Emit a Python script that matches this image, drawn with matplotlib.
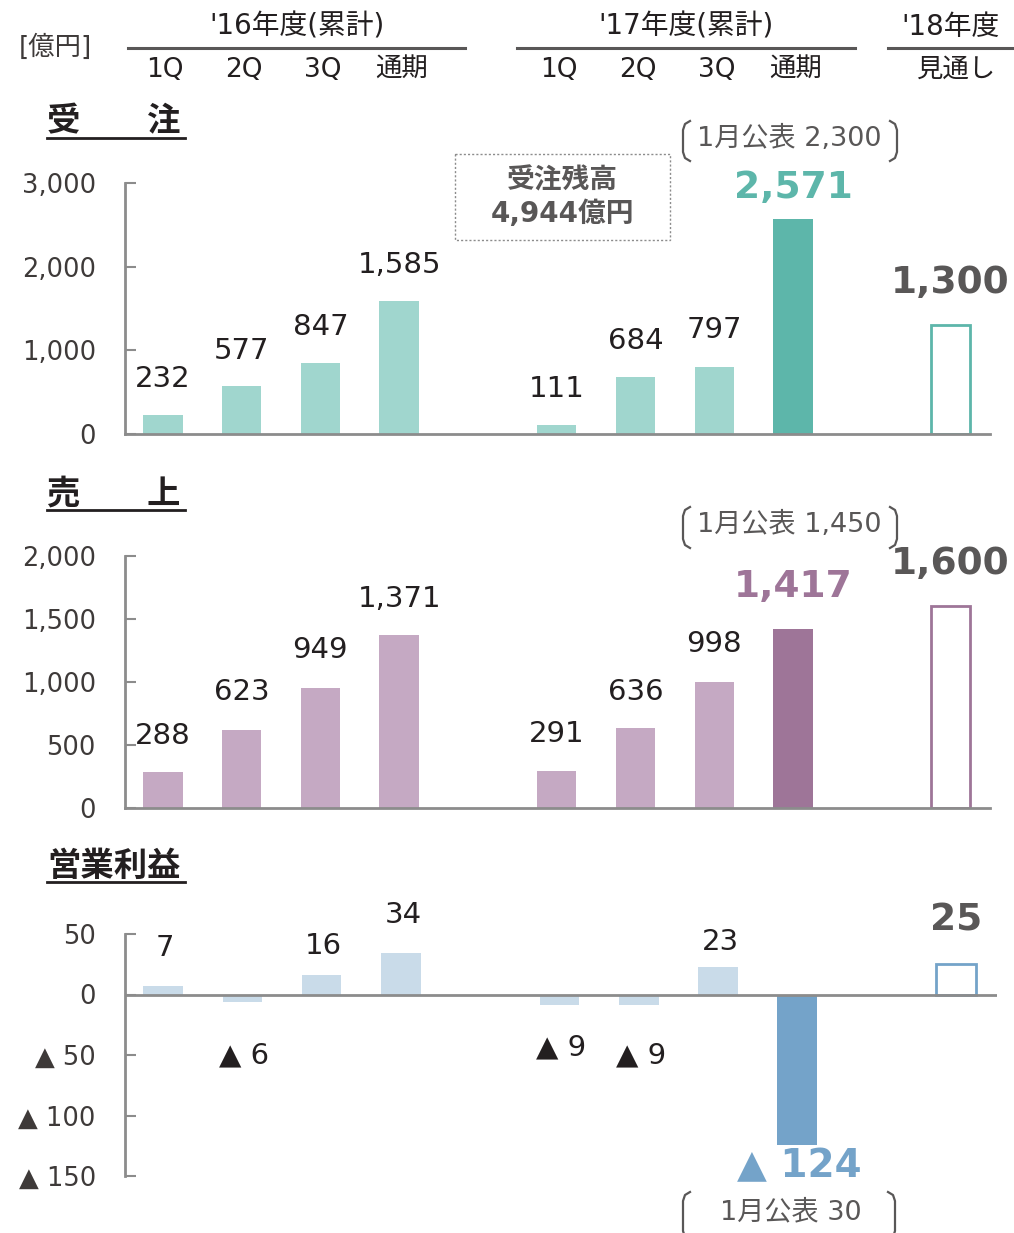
import matplotlib
matplotlib.use('Agg')
import matplotlib.pyplot as plt
from matplotlib.transforms import Affine2D, blended_transform_factory
from matplotlib.lines import Line2D
from matplotlib.patches import Rectangle

# DejaVu for the latin digits (wide, like the original), Noto CJK for kanji
plt.rcParams['font.family'] = ['DejaVu Sans', 'Noto Sans CJK JP']

# ---------------------------------------------------------------
# Data (億円)
# ---------------------------------------------------------------
quarters = ['1Q', '2Q', '3Q', '通期']
years = ["'16年度(累計)", "'17年度(累計)", "'18年度"]
forecast_label = '見通し'

orders_16 = [232, 577, 847, 1585]
orders_17 = [111, 684, 797, 2571]
orders_18 = 1300

sales_16 = [288, 623, 949, 1371]
sales_17 = [291, 636, 998, 1417]
sales_18 = 1600

profit_16 = [7, -6, 16, 34]
profit_17 = [-9, -9, 23, -124]
profit_18 = 25

plan_orders = 2300
plan_sales = 1450
plan_profit = 30
order_backlog = 4944

# bar positions: 4 bars, gap, 4 bars, gap, forecast
pos_16 = [0, 1, 2, 3]
pos_17 = [5, 6, 7, 8]
pos_18 = 10

TEXT = '#231f20'
TICK = '#3e3a39'
GRAY = '#595757'
SPINE = '#8c8c8c'

fig = plt.figure(figsize=(10.14, 12.33), dpi=100)
# pixel coordinates measured from the top-left corner of the picture
px = Affine2D().scale(1 / 1014, -1 / 1233).translate(0, 1) + fig.transFigure


def fmt(v):
    return f'{v:,}' if v >= 0 else f'▲ {abs(v):,}'


def make_axes(left, top, right, bottom, ylim, ticks):
    ax = fig.add_axes([left / 1014, 1 - bottom / 1233, (right - left) / 1014, (bottom - top) / 1233])
    ax.set_ylim(ylim)
    ax.set_yticks(ticks)
    ax.set_yticklabels([fmt(t) for t in ticks])
    ax.set_xticks([])
    for s in ['top', 'right']:
        ax.spines[s].set_visible(False)
    for s in ['left', 'bottom']:
        ax.spines[s].set_color(SPINE)
        ax.spines[s].set_linewidth(2)
    ax.tick_params(axis='y', direction='in', length=8, width=1.5, color=SPINE,
                   labelsize=18.5, labelcolor=TICK, pad=21)
    ax.patch.set_alpha(0)
    return ax


def draw_panel(ax, v16, v17, v18, light, dark, offsets, big_off, fc_off):
    xs = pos_16 + pos_17
    vals = v16 + v17
    colors = [light] * 7 + [dark]
    ax.bar(xs, vals, width=0.5, color=colors, zorder=2)
    ax.bar([pos_18], [v18], width=0.5, facecolor='white', edgecolor=dark, linewidth=2, zorder=2)
    for x, v, off in zip(xs[:7], vals[:7], offsets):
        ax.annotate(fmt(v), (x, v), xytext=(0, off), textcoords='offset pixels',
                    ha='center', va='center', fontsize=21, color=TEXT)
    ax.annotate(fmt(vals[7]), (xs[7], vals[7]), xytext=(0, big_off), textcoords='offset pixels',
                ha='center', va='center', fontsize=27, fontweight='bold', color=dark)
    ax.annotate(fmt(v18), (pos_18, v18), xytext=(0, fc_off), textcoords='offset pixels',
                ha='center', va='center', fontsize=27, fontweight='bold', color=GRAY)


def bracket(x0, x1, top, bottom):
    r = 7
    left = [(x0 + r, top), (x0 + 2, top + 3), (x0, top + r + 2), (x0, bottom - r - 2), (x0 + 2, bottom - 3), (x0 + r, bottom)]
    right = [(x1 - r, top), (x1 - 2, top + 3), (x1, top + r + 2), (x1, bottom - r - 2), (x1 - 2, bottom - 3), (x1 - r, bottom)]
    for pts in (left, right):
        fig.add_artist(Line2D([p[0] for p in pts], [p[1] for p in pts], transform=px,
                              color=GRAY, linewidth=1.6))


def title(text, y):
    fig.text(47, y, text, transform=px, fontsize=24, fontweight='bold', color=TEXT,
             ha='left', va='center')
    fig.add_artist(Line2D([47, 185], [y + 16, y + 16], transform=px, color=TEXT, linewidth=2))


# ---------------------------------------------------------------
# Header
# ---------------------------------------------------------------
fig.text(55, 48, '[億円]', transform=px, fontsize=19, color=TICK, ha='center', va='center')
header_spans = [(128, 465), (517, 855), (888, 1013)]
for (a, b), name in zip(header_spans, years):
    fig.add_artist(Line2D([a, b], [48, 48], transform=px, color=GRAY, linewidth=2.2))
    fig.text((a + b) / 2, 27, name, transform=px, fontsize=20, color=TEXT, ha='center', va='center')

# ---------------------------------------------------------------
# 受注
# ---------------------------------------------------------------
ax1 = make_axes(125, 183, 990, 434, (0, 3000), [0, 1000, 2000, 3000])
ax1.set_xlim(-0.48, 10.5)
draw_panel(ax1, orders_16, orders_17, orders_18, '#a0d6ce', '#5db6aa',
           [36, 35, 36, 36, 36, 36, 37], 31, 42)
title('受\u3000\u3000注', 122)

hdr = blended_transform_factory(ax1.transData, px)
for x, q in zip(pos_16 + pos_17, quarters * 2):
    ax1.text(x + 0.03, 70, q, transform=hdr, fontsize=19, color=TEXT, ha='center', va='center')
ax1.text(pos_18 + 0.07, 70, forecast_label, transform=hdr,
         fontsize=19, color=TEXT, ha='center', va='center')

fig.add_artist(Rectangle((455, 154), 215, 86, transform=px, fill=False,
                         edgecolor='#8c8c8c', linestyle=(0, (1.5, 1.5)), linewidth=1))
fig.text(562, 180, '受注残高', transform=px, fontsize=20, fontweight='bold', color=GRAY,
         ha='center', va='center')
fig.text(562, 214, f'{order_backlog:,}億円', transform=px, fontsize=20, fontweight='bold',
         color=GRAY, ha='center', va='center')

fig.text(789, 139, f'1月公表 {plan_orders:,}', transform=px, fontsize=19.5, color=GRAY,
         ha='center', va='center')
bracket(683, 897, 121, 161)

# ---------------------------------------------------------------
# 売上
# ---------------------------------------------------------------
ax2 = make_axes(125, 556, 990, 808, (0, 2000), [0, 500, 1000, 1500, 2000])
ax2.set_xlim(-0.48, 10.5)
draw_panel(ax2, sales_16, sales_17, sales_18, '#c5a9c3', '#9e7598',
           [36, 38, 38, 36, 37, 36, 38], 42, 42)
title('売\u3000\u3000上', 494)

fig.text(789, 525, f'1月公表 {plan_sales:,}', transform=px, fontsize=19.5, color=GRAY,
         ha='center', va='center')
bracket(683, 897, 507, 548)

# ---------------------------------------------------------------
# 営業利益
# ---------------------------------------------------------------
ax3 = make_axes(125, 934, 997, 1176, (-150, 50), [50, 0, -50, -100, -150])
ax3.set_xlim(-0.48, 10.52)
ax3.spines['bottom'].set_visible(False)
ax3.axhline(0, color=SPINE, linewidth=2, zorder=3)
p_light, p_dark = '#c9dbe9', '#74a3c9'
xs3 = pos_16 + pos_17
vals3 = profit_16 + profit_17
ax3.bar(xs3, vals3, width=0.5, color=[p_light] * 7 + [p_dark], zorder=2)
ax3.bar([pos_18], [profit_18], width=0.5, facecolor='white', edgecolor=p_dark, linewidth=2, zorder=2)
offs3 = [38, -54, 29, 38, -42, -50, 25]
for x, v, off in zip(xs3[:7], vals3[:7], offs3):
    ax3.annotate(fmt(v), (x, v), xytext=(2, off), textcoords='offset pixels',
                 ha='center', va='center', fontsize=21, color=TEXT)
ax3.annotate(fmt(vals3[7]), (xs3[7], vals3[7]), xytext=(2, -22), textcoords='offset pixels',
             ha='center', va='center', fontsize=28, fontweight='bold', color=p_dark)
ax3.annotate(fmt(profit_18), (pos_18, profit_18), xytext=(0, 44), textcoords='offset pixels',
             ha='center', va='center', fontsize=27, fontweight='bold', color=GRAY)
title('営業利益', 866)

fig.text(791, 1212, f'1月公表 {plan_profit}', transform=px, fontsize=19.5, color=GRAY,
         ha='center', va='center')
bracket(683, 895, 1192, 1240)

fig.savefig('out.png', dpi=100)
